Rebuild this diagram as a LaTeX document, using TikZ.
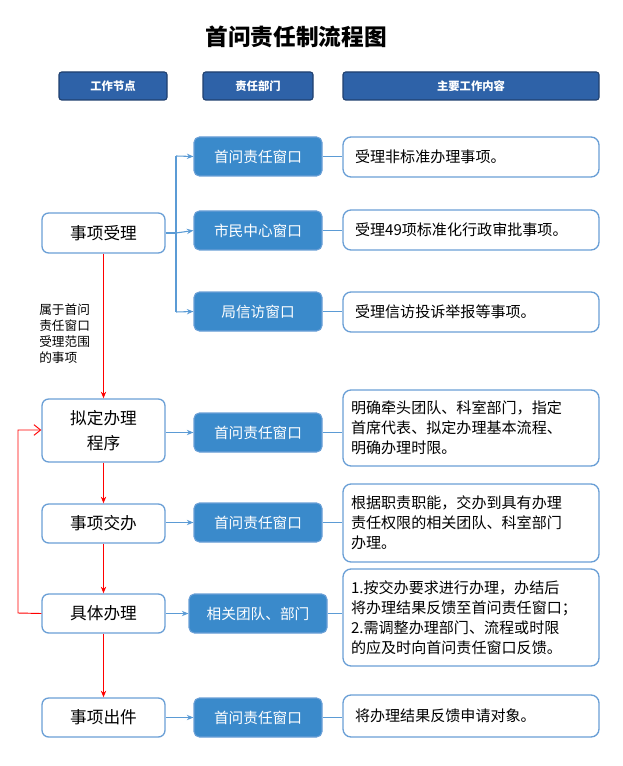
\documentclass[tikz,border=0pt]{standalone}
\usepackage{fontspec}
\setmainfont{Noto Sans CJK SC}
\usetikzlibrary{arrows.meta}
\definecolor{hdr}{HTML}{2E62A8}
\definecolor{hdrb}{HTML}{1F3F6E}
\definecolor{mid}{HTML}{3A8ACB}
\definecolor{bord}{HTML}{6A9FD6}
\definecolor{ln}{HTML}{5B9BD5}
\tikzset{
 hdrbox/.style={draw=hdrb,fill=hdr,rounded corners=2pt,text=white,font=\bfseries\fontsize{8.5}{10}\selectfont,line width=0.8pt},
 leftbox/.style={draw=bord,fill=white,rounded corners=5pt,line width=1pt,font=\fontsize{12.5}{19}\selectfont,align=center},
 midbox/.style={draw=bord,fill=mid,rounded corners=4pt,line width=0.8pt,text=white,font=\fontsize{11}{13}\selectfont},
 rightbox/.style={draw=bord,fill=white,rounded corners=6pt,line width=1pt,font=\fontsize{11.3}{15}\selectfont,align=left,text width=180pt,inner sep=0pt},
 blue/.style={draw=ln,line width=0.8pt},
 barr/.style={blue,-{Stealth[length=5pt,width=4pt]}},
 rarr/.style={draw=red,line width=0.7pt,-{Stealth[length=5pt,width=4pt]}},
}
\begin{document}
\begin{tikzpicture}[x=0.75pt,y=-0.75pt]
\useasboundingbox (0,0) rectangle (622,766);
\def\bx#1#2#3#4#5#6#7{\node[#6,minimum width=#3*0.75pt-#1*0.75pt,minimum height=#4*0.75pt-#2*0.75pt] (#5) at ({(#1+#3)/2},{(#2+#4)/2}) {#7};}
\node[font=\bfseries\fontsize{17}{19}\selectfont] (title) at (296,37) {首问责任制流程图};
\bx{59}{72}{167}{100}{h1}{hdrbox}{工作节点}
\bx{203}{72}{313}{100}{h2}{hdrbox}{责任部门}
\bx{343}{72}{599}{100}{h3}{hdrbox}{主要工作内容}
% left
\bx{42}{213}{165}{253}{a}{leftbox}{事项受理}
\bx{42}{399}{165}{462}{b}{leftbox}{拟定办理\\程序}
\bx{42}{504}{165}{543}{c}{leftbox}{事项交办}
\bx{42}{594}{165}{633}{d}{leftbox}{具体办理}
\bx{42}{698}{165}{737}{e}{leftbox}{事项出件}
% middle
\bx{194}{137}{322}{176}{m1}{midbox}{首问责任窗口}
\bx{194}{211}{322}{250}{m2}{midbox}{市民中心窗口}
\bx{194}{292}{322}{331}{m3}{midbox}{局信访窗口}
\bx{194}{413}{322}{452}{m4}{midbox}{首问责任窗口}
\bx{194}{503}{322}{542}{m5}{midbox}{首问责任窗口}
\bx{189}{594}{327}{633}{m6}{midbox}{相关团队、部门}
\bx{194}{698}{322}{737}{m7}{midbox}{首问责任窗口}
% right
\bx{343}{137}{599}{177}{r1}{rightbox}{\hspace*{3pt}受理非标准办理事项。}
\bx{343}{210}{599}{250}{r2}{rightbox}{\hspace*{3pt}受理49项标准化行政审批事项。}
\bx{343}{292}{599}{332}{r3}{rightbox}{\hspace*{3pt}受理信访投诉举报等事项。}
\bx{343}{390}{599}{466}{r4}{rightbox}{明确牵头团队、科室部门，指定\\首席代表、拟定办理基本流程、\\明确办理时限。}
\bx{343}{484}{599}{562}{r5}{rightbox}{根据职责职能，交办到具有办理\\责任权限的相关团队、科室部门\\办理。}
\bx{343}{569}{599}{666}{r6}{rightbox}{1.按交办要求进行办理，办结后\\将办理结果反馈至首问责任窗口；\\2.需调整办理部门、流程或时限\\的应及时向首问责任窗口反馈。}
\bx{343}{695}{599}{737}{r7}{rightbox}{\hspace*{3pt}将办理结果反馈申请对象。}
% blue connectors
\coordinate (j) at (176,233);
\draw[blue] (a.east) -- (j);
\draw[blue] (176,156) -- (176,312);
\draw[barr] (176,156) -- (m1.west);
\draw[barr] (j) -- (m2.west);
\draw[barr] (176,312) -- (m3.west);
\draw[barr] (b.east|-m4) -- (m4.west);
\draw[barr] (c.east|-m5) -- (m5.west);
\draw[barr] (d.east) -- (m6.west);
\draw[barr] (e.east) -- (m7.west);
\foreach \m/\r in {m1/r1,m2/r2,m3/r3,m4/r4,m5/r5,m6/r6,m7/r7}{\draw[blue] (\m.east) -- (\r.west|-\m.east);}
% red
\draw[rarr] (a.south) -- (b.north);
\draw[rarr] (b.south) -- (c.north);
\draw[rarr] (c.south) -- (d.north);
\draw[rarr] (d.south) -- (e.north);
\draw[draw=red,line width=0.7pt,-{Straight Barb[length=5pt,width=8pt]}] (d.west) -- (18,613) -- (18,430) -- (b.west|-0,430);
\node[font=\fontsize{9.5}{12}\selectfont,align=left,anchor=north west,inner sep=0pt] (lbl) at (39,304) {属于首问\\责任窗口\\受理范围\\的事项};
\end{tikzpicture}
\end{document}
